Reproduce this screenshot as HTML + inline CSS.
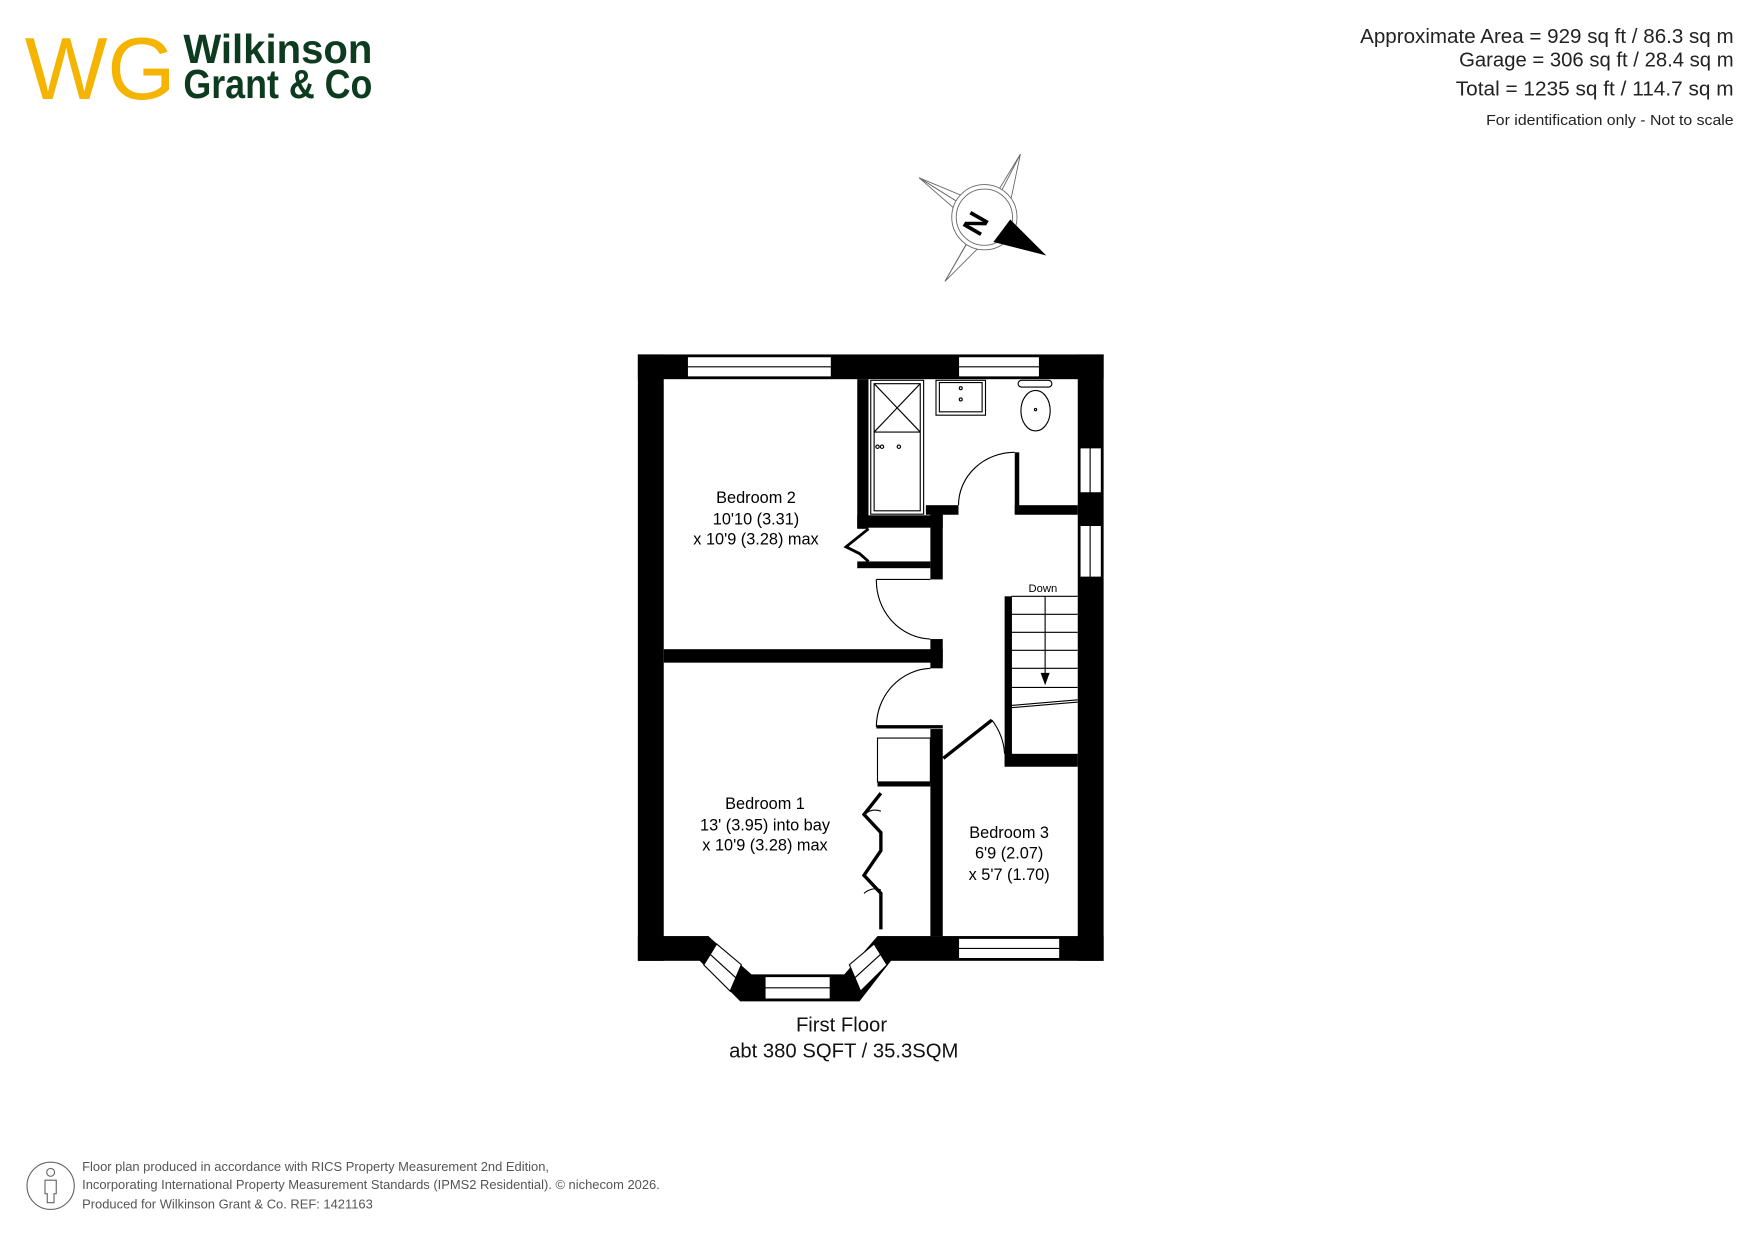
<!DOCTYPE html>
<html><head><meta charset="utf-8"><style>
html,body{margin:0;padding:0;background:#fff;}
svg{display:block;}
text{font-family:"Liberation Sans",sans-serif;}
</style></head><body>
<svg width="1755" height="1241" viewBox="0 0 1560 1103" xmlns="http://www.w3.org/2000/svg">
<rect width="1560" height="1103" fill="#fff"/>
<!-- Logo -->
<text x="22" y="88" font-family="Liberation Serif" font-size="78" fill="#f4b400" textLength="134" lengthAdjust="spacingAndGlyphs">WG</text>
<text x="163" y="56" font-family="Liberation Serif" font-weight="bold" font-size="36" fill="#0d3b1f" textLength="168" lengthAdjust="spacingAndGlyphs">Wilkinson</text>
<text x="163" y="87" font-family="Liberation Serif" font-weight="bold" font-size="36" fill="#0d3b1f" textLength="168" lengthAdjust="spacingAndGlyphs">Grant &amp; Co</text>
<!-- Header right -->
<g fill="#222" text-anchor="end">
<text x="1541" y="38" font-size="18" textLength="332" lengthAdjust="spacingAndGlyphs">Approximate Area = 929 sq ft / 86.3 sq m</text>
<text x="1541" y="59" font-size="18" textLength="244" lengthAdjust="spacingAndGlyphs">Garage = 306 sq ft / 28.4 sq m</text>
<text x="1541" y="85" font-size="18" textLength="247" lengthAdjust="spacingAndGlyphs">Total = 1235 sq ft / 114.7 sq m</text>
<text x="1541" y="111" font-size="13.5" textLength="220" lengthAdjust="spacingAndGlyphs">For identification only - Not to scale</text>
</g>
<!-- Compass -->
<g stroke="#666" stroke-width="0.8" fill="none">
<polygon points="907,137 890,170 873,193 858,175 817,158 848,185 873,193 860,215 840,250 878,212 873,193 898,180"/>
<line x1="907" y1="137" x2="873" y2="193"/><line x1="817" y1="158" x2="873" y2="193"/><line x1="840" y1="250" x2="873" y2="193"/>
<circle cx="875" cy="193" r="29" fill="#fff"/><circle cx="875" cy="193" r="25"/>
</g>
<polygon points="898,195 930,227 883,215" fill="#000"/>
<text x="0" y="0" font-size="26" font-weight="bold" fill="#000" text-anchor="middle" transform="translate(875,203) rotate(-60)">N</text>
<!-- Floor plan -->
<g fill="#000">
<rect x="567" y="315" width="23" height="539"/>
<rect x="567" y="315" width="414" height="22"/>
<rect x="958" y="315" width="23" height="539"/>
<rect x="567" y="832" width="63" height="22"/>
<rect x="780" y="832" width="201" height="22"/>
<polygon points="622,854 658,890 764,890 792,854 780,832 750.5,866 668,866 629.6,832"/>
<!-- interior walls -->
<rect x="762" y="337" width="10" height="133"/>
<rect x="762" y="458" width="76" height="11"/>
<rect x="762" y="499" width="65" height="6"/>
<rect x="827" y="450" width="11" height="65"/>
<rect x="827" y="568" width="11" height="26"/>
<rect x="590" y="577" width="248" height="12"/>
<rect x="827" y="648" width="11" height="184"/>
<rect x="823" y="449" width="29" height="8.5"/>
<rect x="902" y="402" width="4" height="55"/>
<rect x="902" y="449" width="56" height="8.5"/>
<rect x="893" y="530" width="6.5" height="151"/>
<rect x="893" y="670" width="65" height="11.5"/>
</g>
<!-- windows -->
<g fill="#fff" stroke="#000" stroke-width="1">
<rect x="611" y="317" width="128" height="18"/><line x1="611" y1="326" x2="739" y2="326"/>
<rect x="852" y="317" width="72" height="18"/><line x1="852" y1="326" x2="924" y2="326"/>
<rect x="960" y="398" width="19" height="40"/><line x1="969" y1="398" x2="969" y2="438"/>
<rect x="960" y="467" width="19" height="46"/><line x1="969" y1="467" x2="969" y2="513"/>
<rect x="852" y="834" width="90" height="18"/><line x1="852" y1="843" x2="942" y2="843"/>
<rect x="680" y="868" width="58" height="20"/><line x1="680" y1="878" x2="738" y2="878"/>
<polygon points="637,839 659,857.5 649,881 625.6,857.6"/><line x1="631" y1="848" x2="654" y2="869"/>
<polygon points="777,839 755,857.5 765,881 788.4,857.6"/><line x1="783" y1="848" x2="760" y2="869"/>
</g>
<!-- fixtures -->
<g fill="none" stroke="#000" stroke-width="1">
<rect x="774" y="338" width="47" height="119"/><rect x="777" y="341" width="41" height="113"/>
<line x1="777" y1="341" x2="818" y2="384"/><line x1="818" y1="341" x2="777" y2="384"/><line x1="777" y1="384" x2="818" y2="384"/>
<circle cx="780" cy="397" r="1.5"/><circle cx="784" cy="397" r="1.5"/><circle cx="799" cy="397" r="1.5"/>
<rect x="832" y="338" width="44" height="31"/><rect x="835" y="340" width="38" height="26"/>
<circle cx="854" cy="345" r="1.3"/><circle cx="854" cy="355" r="1.3"/>
<rect x="905" y="338" width="30" height="6" rx="3"/>
<ellipse cx="920.5" cy="365" rx="13" ry="18"/><circle cx="920.5" cy="364" r="1"/>
<!-- doors -->
<line x1="779" y1="515" x2="827" y2="515"/><path d="M779,515 A50,52 0 0 0 827,568"/>
<line x1="779" y1="646" x2="838" y2="646" stroke-width="3"/><path d="M779,646 A50,52 0 0 1 827,594"/>
<path d="M902,402 A50,47 0 0 0 852,449"/>
<line x1="838.5" y1="674" x2="881.7" y2="640" stroke-width="3"/><path d="M881.7,640 A55,55 0 0 1 893,670"/>
<polyline points="772,470 752,486 764,492 772,499" stroke-width="2.5"/>
<rect x="780" y="656" width="47" height="39"/>
<line x1="780" y1="697" x2="827" y2="697" stroke-width="4"/>
<polyline points="783,705 768,724 783,740 783,756 768,778 783,794 783,826" stroke-width="3"/>
<path d="M768,724 Q775,718 783,721 M768,794 Q775,788 783,791"/>
<!-- stairs -->
<line x1="899" y1="530" x2="958" y2="530"/><line x1="899" y1="546" x2="958" y2="546"/><line x1="899" y1="562" x2="958" y2="562"/>
<line x1="899" y1="578" x2="958" y2="578"/><line x1="899" y1="594" x2="958" y2="594"/><line x1="899" y1="611" x2="958" y2="611"/>
<line x1="899" y1="627" x2="958" y2="622"/><line x1="899" y1="629" x2="958" y2="624"/>
<line x1="929" y1="530" x2="929" y2="600"/>
</g>
<polygon points="925,598 933,598 929,609" fill="#000"/>
<text x="927" y="526" font-size="10" text-anchor="middle" fill="#000">Down</text>
<!-- labels -->
<g font-size="14.5" fill="#000" text-anchor="middle" font-family="DejaVu Sans, sans-serif">
<text x="672" y="447" font-family="Liberation Sans, sans-serif">Bedroom 2</text>
<text x="672" y="466" font-family="Liberation Sans, sans-serif">10'10 (3.31)</text>
<text x="672" y="484" font-family="Liberation Sans, sans-serif">x 10'9 (3.28) max</text>
<text x="680" y="719" font-family="Liberation Sans, sans-serif">Bedroom 1</text>
<text x="680" y="738" font-family="Liberation Sans, sans-serif">13' (3.95) into bay</text>
<text x="680" y="756" font-family="Liberation Sans, sans-serif">x 10'9 (3.28) max</text>
<text x="897" y="745" font-family="Liberation Sans, sans-serif">Bedroom 3</text>
<text x="897" y="763" font-family="Liberation Sans, sans-serif">6'9 (2.07)</text>
<text x="897" y="782" font-family="Liberation Sans, sans-serif">x 5'7 (1.70)</text>
</g>
<text x="748" y="917" font-size="18" text-anchor="middle" fill="#111">First Floor</text>
<text x="750" y="940" font-size="18" text-anchor="middle" fill="#111">abt 380 SQFT / 35.3SQM</text>
<!-- footer -->
<circle cx="45" cy="1054" r="21" fill="none" stroke="#666" stroke-width="1"/>
<circle cx="45" cy="1042" r="3.5" fill="none" stroke="#666"/>
<path d="M40,1049 h10 v12 h-2 v8 h-6 v-8 h-2 z" fill="none" stroke="#666"/>
<g font-size="11.5" fill="#555">
<text x="73" y="1041">Floor plan produced in accordance with RICS Property Measurement 2nd Edition,</text>
<text x="73" y="1057">Incorporating International Property Measurement Standards (IPMS2 Residential).  ©  nichecom  2026.</text>
<text x="73" y="1074">Produced for Wilkinson Grant &amp; Co.   REF: 1421163</text>
</g>
</svg>
</body></html>
